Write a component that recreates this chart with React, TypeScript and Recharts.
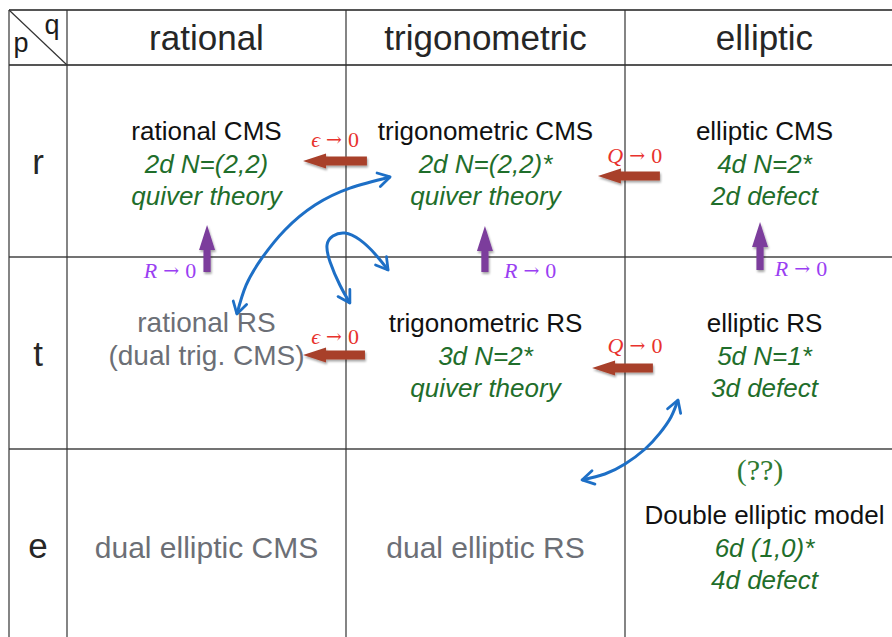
import React from "react";
import { ComposedChart, XAxis, YAxis, ReferenceLine, Scatter, Line } from "recharts";

const W = 892;
const H = 637;

// columns: q (type of potential), rows: p (momentum dependence)
const qTypes = ["rational", "trigonometric", "elliptic"];
const pTypes = ["r", "t", "e"];

// models, row-major (p, q)
const modelNames = [
  "rational CMS", "trigonometric CMS", "elliptic CMS",
  "rational RS", "trigonometric RS", "elliptic RS",
  "dual elliptic CMS", "dual elliptic RS", "Double elliptic model",
];
// false where the model is only known through a duality (gray)
const modelKnown = [true, true, true, false, true, true, false, false, true];
const modelNotes = ["", "", "", "(dual trig. CMS)", "", "", "", "", ""];
const gaugeTheories = [
  ["2d N=(2,2)", "quiver theory"],
  ["2d N=(2,2)*", "quiver theory"],
  ["4d N=2*", "2d defect"],
  [],
  ["3d N=2*", "quiver theory"],
  ["5d N=1*", "3d defect"],
  [],
  [],
  ["6d (1,0)*", "4d defect"],
];

// q-direction limits, tail -> tip, in table units (1 = one cell)
const limitVars = ["ϵ", "Q", "ϵ", "Q"];
const limitTails = [[1.075, 0.5], [2.125, 0.578], [1.068, 1.51], [2.1, 1.578]];
const limitTips = [[0.846, 0.5], [1.903, 0.578], [0.846, 1.51], [1.882, 1.578]];
const limitLabelAt = [[0.961, 0.385], [2.035, 0.469], [0.961, 1.411], [2.036, 1.458]];

// p-direction limits
const radiusVars = ["R", "R", "R"];
const radiusTails = [[0.502, 1.078], [1.498, 1.078], [2.484, 1.068]];
const radiusTips = [[0.502, 0.833], [1.498, 0.839], [2.484, 0.818]];
const radiusLabelAt = [[0.369, 1.068], [1.66, 1.068], [2.631, 1.057]];

// dualities (blue double arrows), points along each arc
const dualityArcs = [
  [[0.609, 1.297], [0.642, 1.146], [0.699, 1.005], [0.781, 0.859], [0.889, 0.729], [1.014, 0.641], [1.158, 0.583]],
  [[1.014, 1.24], [0.978, 1.146], [0.943, 1.026], [0.932, 0.938], [0.953, 0.891], [0.996, 0.875], [1.05, 0.911], [1.104, 0.984], [1.151, 1.068]],
  [[1.846, 2.161], [1.928, 2.13], [2.0, 2.078], [2.072, 2.0], [2.125, 1.917], [2.165, 1.833], [2.19, 1.745]],
];

const openQuestion = "(??)";
const openQuestionAt = [2.484, 2.109];

// ---- layout ----
const X_MIN = -67 / 279;
const X_MAX = 825 / 279;
const Y_MIN = -65 / 192;
const Y_MAX = 572 / 192;
const LEFT_EDGE = -58 / 279;
const TOP_EDGE = -55 / 192;
const LINE_H = 32.8;

const SANS = "'Liberation Sans', Arial, Helvetica, sans-serif";
const SERIF = "'Liberation Serif', 'DejaVu Serif', serif";
const GREEN = "#1f6e2b";
const GRAY = "#6c6f76";
const BROWN = "#a8402c";
const PURPLE = "#7b3d9c";
const BLUE = "#1d6fc6";

const cellData = modelNames.map((name, i) => {
  const lines: { text: string; kind: string }[] = [{ text: name, kind: modelKnown[i] ? "name" : "dual" }];
  if (modelNotes[i]) lines.push({ text: modelNotes[i], kind: "dual" });
  gaugeTheories[i].forEach((t) => lines.push({ text: t, kind: "theory" }));
  return { x: (i % 3) + 0.5, y: Math.floor(i / 3) + 0.5, lines };
});
const headerData = qTypes.map((q, i) => ({ x: i + 0.5, y: -0.141, text: q }));
const rowData = pTypes.map((p, i) => ({ x: LEFT_EDGE / 2, y: i + 0.5, text: p }));
const limitLabelData = limitVars.map((v, i) => ({ x: limitLabelAt[i][0], y: limitLabelAt[i][1], v, color: "#e8322d" }));
const radiusLabelData = radiusVars.map((v, i) => ({ x: radiusLabelAt[i][0], y: radiusLabelAt[i][1], v, color: "#9a3ff2" }));

const kindStyle: Record<string, React.CSSProperties> = {
  name: { fill: "#111", fontSize: 26 },
  theory: { fill: GREEN, fontSize: 26, fontStyle: "italic" },
  dual: { fill: GRAY, fontSize: 28 },
};

function CellText(props: any) {
  const { cx, cy, payload } = props;
  const lines = payload.lines;
  const single = lines.length === 1;
  const start = single ? 1 : 0;
  return (
    <g>
      {lines.map((l: any, i: number) => (
        <text
          key={i}
          x={cx}
          y={cy + 2.5 + (start + i - 1) * LINE_H}
          textAnchor="middle"
          dominantBaseline="central"
          fontFamily={SANS}
          style={{ ...kindStyle[l.kind], ...(single && l.kind === "dual" ? { fontSize: 30 } : {}) }}
        >
          {l.text}
        </text>
      ))}
    </g>
  );
}

function BigText(props: any) {
  const { cx, cy, payload } = props;
  return (
    <text x={cx} y={cy} textAnchor="middle" dominantBaseline="central" fontFamily={SANS} fontSize={35} fill="#262626">
      {payload.text}
    </text>
  );
}

function MathLabel(props: any) {
  const { cx, cy, payload } = props;
  return (
    <text x={cx} y={cy} textAnchor="middle" dominantBaseline="central" fontFamily={SERIF} fontSize={22} fill={payload.color}>
      <tspan fontStyle="italic">{payload.v}</tspan>
      <tspan fontFamily="'DejaVu Serif', serif" fontSize={19}> → </tspan>
      <tspan>0</tspan>
    </text>
  );
}

function arrowPoints(x1: number, y1: number, x2: number, y2: number, headLen: number, headHalf: number, shaftHalf: number) {
  const len = Math.hypot(x2 - x1, y2 - y1) || 1;
  const ux = (x2 - x1) / len;
  const uy = (y2 - y1) / len;
  const nx = -uy;
  const ny = ux;
  const bx = x2 - ux * headLen;
  const by = y2 - uy * headLen;
  const pts = [
    [x1 + nx * shaftHalf, y1 + ny * shaftHalf],
    [bx + nx * shaftHalf, by + ny * shaftHalf],
    [bx + nx * headHalf, by + ny * headHalf],
    [x2, y2],
    [bx - nx * headHalf, by - ny * headHalf],
    [bx - nx * shaftHalf, by - ny * shaftHalf],
    [x1 - nx * shaftHalf, y1 - ny * shaftHalf],
  ];
  return pts.map((p) => p.join(",")).join(" ");
}

const LimitArrow = (props: any) => (
  <polygon points={arrowPoints(props.x1, props.y1, props.x2, props.y2, 23, 7.5, 4.5)} fill={BROWN} filter="url(#arrowShadow)" />
);
const RadiusArrow = (props: any) => (
  <polygon points={arrowPoints(props.x1, props.y1, props.x2, props.y2, 25, 8, 3.6)} fill={PURPLE} filter="url(#arrowShadow)" />
);

export default function App() {
  return (
    <div style={{ position: "fixed", left: 0, top: 0, width: W, height: H, background: "#fff" }}>
      <svg width={0} height={0} style={{ position: "absolute" }}>
        <defs>
          <marker
            id="blueHead"
            viewBox="0 0 16 16"
            refX={13}
            refY={8}
            markerWidth={17}
            markerHeight={17}
            markerUnits="userSpaceOnUse"
            orient="auto-start-reverse"
          >
            <path d="M2,1.5 L13,8 L2,14.5" fill="none" stroke={BLUE} strokeWidth={2.6} strokeLinecap="round" strokeLinejoin="round" />
          </marker>
          <filter id="arrowShadow" x="-30%" y="-60%" width="160%" height="220%">
            <feDropShadow dx={1} dy={2} stdDeviation={1.2} floodColor="#000" floodOpacity={0.35} />
          </filter>
        </defs>
      </svg>
      <ComposedChart width={W} height={H} margin={{ top: 0, right: 0, bottom: 0, left: 0 }}>
        <XAxis type="number" dataKey="x" domain={[X_MIN, X_MAX]} hide allowDataOverflow />
        <YAxis type="number" dataKey="y" domain={[Y_MIN, Y_MAX]} reversed hide allowDataOverflow />

        {[TOP_EDGE, 0].map((y) => (
          <ReferenceLine key={`h${y}`} segment={[{ x: LEFT_EDGE, y }, { x: X_MAX, y }]} stroke="#555" strokeWidth={2} ifOverflow="visible" />
        ))}
        {[1, 2].map((y) => (
          <ReferenceLine key={`h${y}`} segment={[{ x: LEFT_EDGE, y }, { x: X_MAX, y }]} stroke="#444" strokeWidth={1.5} ifOverflow="visible" />
        ))}
        {[LEFT_EDGE, 0, 1, 2].map((x) => (
          <ReferenceLine key={`v${x}`} segment={[{ x, y: TOP_EDGE }, { x, y: Y_MAX }]} stroke="#333" strokeWidth={1.2} ifOverflow="visible" />
        ))}
        <ReferenceLine segment={[{ x: LEFT_EDGE, y: TOP_EDGE }, { x: 0, y: 0 }]} stroke="#333" strokeWidth={1.2} ifOverflow="visible" />

        {limitTails.map((t, i) => (
          <ReferenceLine
            key={`l${i}`}
            segment={[{ x: t[0], y: t[1] }, { x: limitTips[i][0], y: limitTips[i][1] }]}
            shape={LimitArrow}
            ifOverflow="visible"
          />
        ))}
        {radiusTails.map((t, i) => (
          <ReferenceLine
            key={`r${i}`}
            segment={[{ x: t[0], y: t[1] }, { x: radiusTips[i][0], y: radiusTips[i][1] }]}
            shape={RadiusArrow}
            ifOverflow="visible"
          />
        ))}

        {dualityArcs.map((arc, i) => (
          <Line
            key={`d${i}`}
            data={arc.map((p) => ({ x: p[0], y: p[1] }))}
            dataKey="y"
            type="natural"
            stroke={BLUE}
            strokeWidth={3}
            dot={false}
            activeDot={false}
            markerStart="url(#blueHead)"
            markerEnd="url(#blueHead)"
            isAnimationActive={false}
          />
        ))}

        <Scatter data={headerData} dataKey="y" shape={BigText} isAnimationActive={false} />
        <Scatter data={rowData} dataKey="y" shape={BigText} isAnimationActive={false} />
        <Scatter data={cellData} dataKey="y" shape={CellText} isAnimationActive={false} />
        <Scatter data={limitLabelData} dataKey="y" shape={MathLabel} isAnimationActive={false} />
        <Scatter data={radiusLabelData} dataKey="y" shape={MathLabel} isAnimationActive={false} />
        <Scatter
          data={[{ x: openQuestionAt[0], y: openQuestionAt[1], text: openQuestion }]}
          dataKey="y"
          isAnimationActive={false}
          shape={(p: any) => (
            <text x={p.cx} y={p.cy} textAnchor="middle" dominantBaseline="central" fontFamily={SERIF} fontSize={30} fill="#2f7a2f">
              {p.payload.text}
            </text>
          )}
        />
        <Scatter
          data={[{ x: -0.165, y: -0.068, text: "p" }, { x: -0.054, y: -0.161, text: "q" }]}
          dataKey="y"
          isAnimationActive={false}
          shape={(p: any) => (
            <text x={p.cx} y={p.cy} textAnchor="middle" fontFamily={SANS} fontSize={27} fill="#1c1c1c">
              {p.payload.text}
            </text>
          )}
        />
      </ComposedChart>
    </div>
  );
}
